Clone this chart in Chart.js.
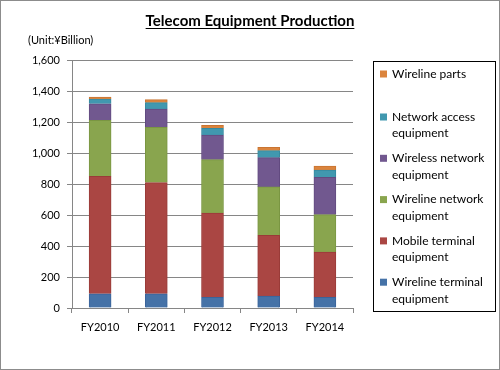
<!DOCTYPE html>
<html>
<head>
<meta charset="utf-8">
<script src="https://cdn.jsdelivr.net/npm/chart.js@4.4.1/dist/chart.umd.min.js"></script>
<style>
  html, body { margin: 0; padding: 0; background: #fff; }
  #wrap { width: 500px; height: 370px; position: relative; }
</style>
</head>
<body>
<div id="wrap"><canvas id="c" width="500" height="370"></canvas></div>
<script>
// values, ¥ billion
const years = ['FY2010', 'FY2011', 'FY2012', 'FY2013', 'FY2014'];
const wirelineTerminal = [92, 92, 69, 77, 69];
const mobileTerminal = [757, 717, 544, 392, 292];
const wirelineNetwork = [362, 357, 344, 312, 241];
const wirelessNetwork = [107, 118, 159, 189, 241];
const networkAccess = [30, 41, 43, 45, 47];
const wirelineParts = [13, 19, 19, 22, 26];
const yTicks = [0, 200, 400, 600, 800, 1000, 1200, 1400, 1600];

const FONT = 'Lato, "Liberation Sans", sans-serif';

const series = [
  { label: 'Wireline terminal equipment', data: wirelineTerminal, color: '#4572a7', edge: '#3a639a' },
  { label: 'Mobile terminal equipment', data: mobileTerminal, color: '#aa4643', edge: '#9a3b38' },
  { label: 'Wireline network equipment', data: wirelineNetwork, color: '#89a54e', edge: '#7a9642' },
  { label: 'Wireless network equipment', data: wirelessNetwork, color: '#71588f', edge: '#624b80' },
  { label: 'Network access equipment', data: networkAccess, color: '#4198af', edge: '#368aa0' },
  { label: 'Wireline parts', data: wirelineParts, color: '#db843d', edge: '#c97532' },
];

// frame, title, unit text and the boxed legend on the right
const decor = {
  id: 'decor',
  beforeDraw(chart) {
    const ctx = chart.ctx;
    ctx.save();
    ctx.fillStyle = '#fff';
    ctx.fillRect(0, 0, chart.width, chart.height);
    ctx.restore();
  },
  afterDraw(chart) {
    const ctx = chart.ctx;
    ctx.save();
    ctx.strokeStyle = '#8c8c8c';
    ctx.lineWidth = 1;
    ctx.strokeRect(0.5, 0.5, chart.width - 1, chart.height - 1);

    // title, underlined
    ctx.fillStyle = '#000';
    ctx.font = 'bold 15px ' + FONT;
    ctx.textAlign = 'center';
    ctx.textBaseline = 'alphabetic';
    const title = 'Telecom Equipment Production';
    ctx.fillText(title, 250, 26);
    const tw = ctx.measureText(title).width;
    ctx.fillRect(250 - tw / 2, 28, tw, 1);

    ctx.font = '11px ' + FONT;
    ctx.textAlign = 'left';
    ctx.fillText('(Unit:¥Billion)', 28, 44);

    // legend box
    ctx.strokeStyle = '#000';
    ctx.strokeRect(373.5, 61.5, 122, 250);
    ctx.font = '12px ' + FONT;
    ctx.textBaseline = 'middle';
    const ds = chart.data.datasets.slice().reverse();
    ds.forEach((d, i) => {
      const y = i === 0 ? 74 : 117 + (i - 1) * 41.3;
      ctx.fillStyle = d.backgroundColor;
      ctx.fillRect(380, y - 3.5, 7, 7);
      ctx.fillStyle = '#000';
      const words = d.label.split(' ');
      let lines = [d.label];
      if (ctx.measureText(d.label).width > 100) {
        lines = [words.slice(0, -1).join(' '), words[words.length - 1]];
      }
      lines.forEach((t, j) => ctx.fillText(t, 392, y + j * 16.5));
    });
    ctx.restore();
  },
};

new Chart(document.getElementById('c'), {
  type: 'bar',
  data: {
    labels: years,
    datasets: series.map((s) => ({
      label: s.label,
      data: s.data,
      backgroundColor: s.color,
      borderColor: s.edge,
      borderWidth: 1,
      barThickness: 22,
    })),
  },
  options: {
    responsive: false,
    animation: false,
    devicePixelRatio: 1,
    layout: { padding: { left: 0, right: 147, top: 60, bottom: 0 } },
    plugins: {
      legend: { display: false },
      title: { display: false },
      tooltip: { enabled: false },
    },
    scales: {
      x: {
        stacked: true,
        afterFit: (s) => { s.height = 62; },
        border: { color: '#868686' },
        grid: { offset: true, drawOnChartArea: false, tickLength: 5, color: '#868686' },
        ticks: { color: '#000', font: { family: FONT, size: 11 }, padding: 8 },
      },
      y: {
        stacked: true,
        min: 0,
        max: 1600,
        afterFit: (s) => { s.width = 72; },
        afterBuildTicks: (s) => { s.ticks = yTicks.map((v) => ({ value: v })); },
        border: { color: '#868686' },
        grid: { color: '#868686', tickLength: 5 },
        ticks: {
          color: '#000',
          font: { family: FONT, size: 11 },
          padding: 7,
          callback: (v) => v.toLocaleString('en-US'),
        },
      },
    },
  },
  plugins: [decor],
});
</script>
</body>
</html>
